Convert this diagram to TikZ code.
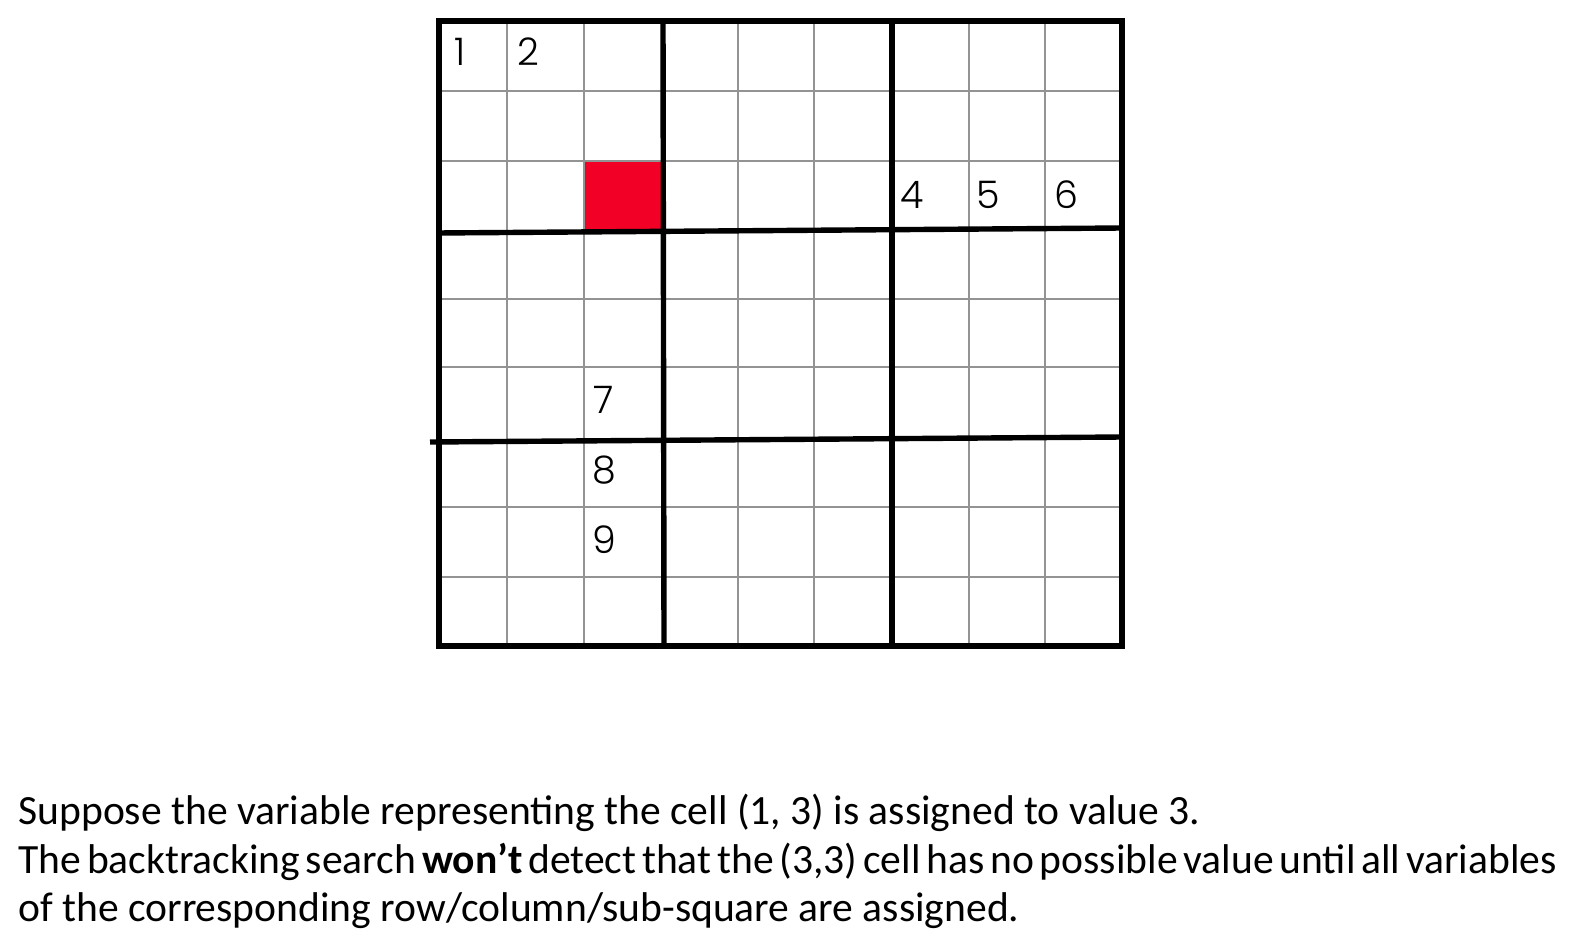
\documentclass[tikz,border=0pt]{standalone}
\usepackage{fontspec}
\setmainfont{Carlito}
\newfontfamily\gridfont{Poppins Light}
\definecolor{cellred}{RGB}{243,0,38}

\begin{document}
\begin{tikzpicture}[x=0.5pt,y=-0.5pt,
	thinline/.style={draw=gray!85,line width=1pt},
	boxline/.style={draw=black,line width=2.7pt},
	digit/.style={inner sep=0pt,font=\gridfont\fontsize{19}{19}\selectfont},
	caption/.style={inner sep=0pt,anchor=base west,font=\fontsize{20.8}{25}\selectfont}]
	\useasboundingbox (0,0) rectangle (1594,942);
	% the assigned cell
	\fill[cellred] (584,161) rectangle (663,231);
	% thin grid
	\foreach \x in {507,584,738,814,969,1045}
		\draw[thinline] (\x,21) -- (\x,646);
	\foreach \y in {91,161,299,367,507,577}
		\draw[thinline] (439,\y) -- (1122,\y);
	% sub-square borders
	\draw[boxline] (663,19) -- (664,648);
	\draw[boxline] (892,19) -- (892,648);
	\draw[boxline] (437,233) -- (1122,228);
	\draw[boxline] (430,442) -- (1122,437);
	\draw[boxline] (439,21) rectangle (1122,646);
	% numbers
	\node (n1) at ( 460, 52) [digit] {1};
	\node (n2) at ( 528, 52) [digit] {2};
	\node (n4) at ( 912,195) [digit] {4};
	\node (n5) at ( 988,195) [digit] {5};
	\node (n6) at (1066,195) [digit] {6};
	\node (n7) at ( 604,400) [digit] {7};
	\node (n8) at ( 604,470) [digit] {8};
	\node (n9) at ( 604,540) [digit] {9};
	% caption
	\node (l1) at (18,824) [caption] {Suppose the variable representing the cell (1, 3) is assigned to value 3.};
	\node (l2) at (18,873) [caption] {\spaceskip=0.14em The backtracking search \textbf{won’t} detect that the (3,3) cell has no possible value until all variables};
	\node (l3) at (18,921) [caption] {of the corresponding row/column/sub-square are assigned.};
\end{tikzpicture}
\end{document}
